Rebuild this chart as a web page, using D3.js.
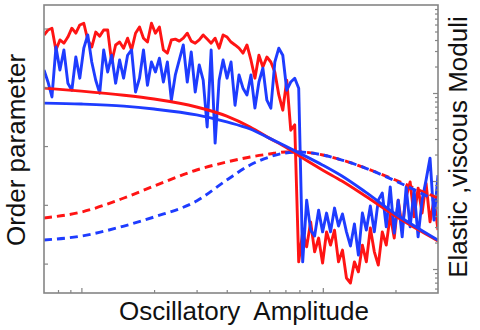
<!DOCTYPE html>
<html><head><meta charset="utf-8">
<script src="https://cdn.jsdelivr.net/npm/d3@7"></script>
<style>body{margin:0;background:#fff;} svg{display:block;}</style>
</head><body><svg id="c" width="480" height="330"></svg>
<script>
// ---- data ----
const ampDomain = [0.7, 30];          // oscillatory amplitude (log)
const orderDomain = [0, 98];          // order parameter (left, linear)
const moduliDomain = [0.00534, 10];   // moduli (right, log)
const nNoisy = 100;                   // noisy samples, log-spaced over ampDomain

const noisyRed = [87.8,89.5,90.1,82.7,86.1,85.0,87.1,90.1,88.4,91.2,
  91.8,86.1,83.7,88.8,87.4,89.5,89.5,78.6,84.4,85.4,
  83.3,86.7,82.7,88.4,90.5,86.7,85.4,91.8,88.4,90.5,
  82.7,81.6,86.1,86.4,85.7,86.7,88.4,85.7,85.0,86.1,
  87.8,86.4,85.0,86.7,83.3,87.8,87.1,85.4,84.4,83.3,
  81.6,84.4,79.3,73.1,80.9,76.9,80.3,78.6,75.2,67.4,
  62.2,72.4,55.4,57.2,10.6,20.8,15.7,24.2,14.0,18.7,
  10.2,20.8,16.3,21.4,10.6,14.6,5.1,3.4,10.6,7.2,
  16.3,10.6,22.1,14.0,9.5,20.8,16.3,26.5,18.7,31.6,
  22.1,32.7,37.8,25.9,35.7,27.2,37.4,24.2,31.6,21.4];

const noisyBlue = [75.9,71.8,66.7,83.7,75.9,82.7,71.4,69.0,80.3,73.1,
  83.3,87.8,78.6,72.4,68.0,82.7,75.2,80.9,71.4,79.3,
  73.1,80.9,82.7,68.4,73.1,82.7,70.7,78.6,75.2,79.9,
  71.8,78.6,65.6,74.2,79.3,84.4,71.8,82.0,68.4,77.6,
  72.4,56.5,82.7,51.0,72.4,79.3,73.1,78.6,63.9,74.2,
  69.7,67.4,74.2,62.9,71.8,76.5,65.6,62.9,78.6,83.3,
  80.9,69.0,71.8,73.1,69.7,10.6,31.6,21.4,19.4,28.2,
  20.8,27.2,20.8,28.9,22.8,26.9,20.8,16.0,23.5,12.9,
  27.2,21.4,29.6,20.8,31.6,34.0,22.5,36.1,20.4,31.6,
  19.1,36.1,22.5,35.0,19.1,31.6,38.4,45.9,24.8,40.1];

const smoothAmp  = [0.7, 1, 1.5, 2, 3, 4, 5, 6, 7, 8, 10, 12, 15, 20, 25, 30];
const orderRed   = [69.7,68.7,67.3,66.0,63.3,60.2,56.5,52.7,49.7,46.6,41.8,38.1,33.0,26.2,21.4,17.7];
const orderBlue  = [64.6,64.3,63.6,62.6,60.6,58.2,55.8,52.7,50.0,47.6,43.5,39.8,34.4,26.9,21.9,18.0];
const moduliRed  = [0.0380,0.0444,0.0641,0.0877,0.1334,0.1644,0.1874,0.2026,0.2136,0.2136,0.1975,0.1732,0.1405,0.1026,0.0790,0.0641];
const moduliBlue = [0.0214,0.0237,0.0308,0.0390,0.0593,0.1026,0.1520,0.1874,0.2081,0.2136,0.1975,0.1732,0.1405,0.1000,0.0750,0.0577];

const leftTicks = [10, 30, 50, 70, 90];
const xLabel = "Oscillatory  Amplitude";
const yLabel = "Order parameter";
const y2Label = "Elastic ,viscous Moduli";

// ---- layout ----
const m = {l: 44, r: 438, t: 5, b: 293};
const RED = "#ff1414", BLUE = "#1e3cff", AXIS = "#858585";
const LW = 2.9;

const svg = d3.select("#c");
const x = d3.scaleLog().domain(ampDomain).range([m.l, m.r]);
const y = d3.scaleLinear().domain(orderDomain).range([m.b, m.t]);
const y2 = d3.scaleLog().domain(moduliDomain).range([m.b, m.t]);

svg.append("defs").append("clipPath").attr("id", "clip")
  .append("rect").attr("x", m.l).attr("y", m.t).attr("width", m.r - m.l).attr("height", m.b - m.t);

const g = svg.append("g").attr("clip-path", "url(#clip)");

// noisy sample amplitudes (log-spaced)
const ampGrid = d3.range(nNoisy).map(i => ampDomain[0] * Math.pow(ampDomain[1] / ampDomain[0], i / (nNoisy - 1)));

const lineNoisy = d3.line().x((d, i) => x(ampGrid[i])).y(d => y(d));
g.append("path").datum(noisyRed).attr("d", lineNoisy)
  .attr("fill", "none").attr("stroke", RED).attr("stroke-width", LW).attr("stroke-linejoin", "round");
g.append("path").datum(noisyBlue).attr("d", lineNoisy)
  .attr("fill", "none").attr("stroke", BLUE).attr("stroke-width", LW).attr("stroke-linejoin", "round");

// dashed moduli (right axis)
const lineMod = d3.line().curve(d3.curveMonotoneX).x((d, i) => x(smoothAmp[i])).y(d => y2(d));
g.append("path").datum(moduliRed).attr("d", lineMod)
  .attr("fill", "none").attr("stroke", RED).attr("stroke-width", LW).attr("stroke-dasharray", "8,5");
g.append("path").datum(moduliBlue).attr("d", lineMod)
  .attr("fill", "none").attr("stroke", BLUE).attr("stroke-width", LW).attr("stroke-dasharray", "8,5");

// smooth order parameter
const lineOrd = d3.line().curve(d3.curveMonotoneX).x((d, i) => x(smoothAmp[i])).y(d => y(d));
g.append("path").datum(orderRed).attr("d", lineOrd)
  .attr("fill", "none").attr("stroke", RED).attr("stroke-width", LW);
g.append("path").datum(orderBlue).attr("d", lineOrd)
  .attr("fill", "none").attr("stroke", BLUE).attr("stroke-width", LW);

// ---- axes / frame ----
const isMajor = v => Math.abs(Math.log10(v) - Math.round(Math.log10(v))) < 1e-6;

const xAxis = d3.axisBottom(x).tickValues(x.ticks().filter(v => v > ampDomain[0] && v < ampDomain[1]))
  .tickSizeInner(0).tickSizeOuter(0).tickFormat("");
const gx = svg.append("g").attr("transform", `translate(0,${m.b})`).call(xAxis);
gx.select(".domain").remove();
gx.selectAll(".tick line").attr("y2", d => isMajor(d) ? -5 : -3).attr("stroke", AXIS).attr("stroke-width", 1.2);

const yAxis = d3.axisLeft(y).tickValues(leftTicks).tickSizeInner(-4).tickSizeOuter(0).tickFormat("");
const gy = svg.append("g").attr("transform", `translate(${m.l},0)`).call(yAxis);
gy.select(".domain").remove();
gy.selectAll(".tick line").attr("stroke", AXIS).attr("stroke-width", 1.2);

const y2Axis = d3.axisRight(y2).tickValues(y2.ticks().filter(v => v > moduliDomain[0] && v < moduliDomain[1]))
  .tickSizeInner(0).tickSizeOuter(0).tickFormat("");
const gy2 = svg.append("g").attr("transform", `translate(${m.r},0)`).call(y2Axis);
gy2.select(".domain").remove();
gy2.selectAll(".tick line").attr("x2", d => isMajor(d) ? -5 : -3).attr("stroke", AXIS).attr("stroke-width", 1.2);

svg.append("rect").attr("x", m.l).attr("y", m.t).attr("width", m.r - m.l).attr("height", m.b - m.t)
  .attr("fill", "none").attr("stroke", AXIS).attr("stroke-width", 1.6);

// ---- labels ----
const FONT = "'Liberation Sans', Arial, sans-serif";
svg.append("text").text(xLabel).attr("x", 244).attr("y", 320)
  .attr("text-anchor", "middle").style("white-space", "pre")
  .attr("font-family", FONT).attr("font-size", 26).attr("fill", "#111");
svg.append("text").text(yLabel).attr("transform", "translate(25,150) rotate(-90)")
  .attr("text-anchor", "middle").attr("font-family", FONT).attr("font-size", 26).attr("fill", "#111");
svg.append("text").text(y2Label).attr("transform", "translate(467,147) rotate(-90)")
  .attr("text-anchor", "middle").attr("font-family", FONT).attr("font-size", 26).attr("fill", "#111");
</script>
</body></html>
